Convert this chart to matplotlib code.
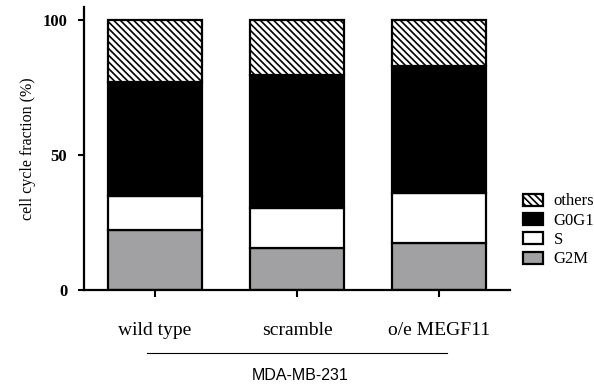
import matplotlib.pyplot as plt
import numpy as np

# Daten (Prozent der Zellzyklusphasen)
groups = ["wild type", "scramble", "o/e MEGF11"]
g2m = [22.2, 15.5, 17.4]
s_phase = [12.6, 14.9, 18.5]
g0g1 = [42.2, 49.2, 47.1]
others = [23.0, 20.4, 17.0]

plt.rcParams['font.family'] = ['Liberation Serif', 'DejaVu Serif']
plt.rcParams['hatch.linewidth'] = 1.2

fig = plt.figure(figsize=(5.94, 3.89), dpi=100)
ax = fig.add_axes([84 / 594, 1 - 290 / 389, 426 / 594, 283.5 / 389])

x = np.arange(len(groups))
w = 0.66
lw = 1.6
b1 = ax.bar(x, g2m, w, color='#a1a1a4', edgecolor='black', linewidth=lw, label='G2M')
bottom = np.array(g2m)
b2 = ax.bar(x, s_phase, w, bottom=bottom, color='white', edgecolor='black', linewidth=lw, label='S')
bottom = bottom + np.array(s_phase)
b3 = ax.bar(x, g0g1, w, bottom=bottom, color='black', edgecolor='black', linewidth=lw, label='G0G1')
bottom = bottom + np.array(g0g1)
b4 = ax.bar(x, others, w, bottom=bottom, color='white', edgecolor='black', linewidth=lw,
            hatch='\\' * 5, label='others')

ax.set_xlim(-0.5, 2.5)
ax.set_ylim(0, 105)
ax.set_yticks([0, 50, 100])
ax.set_yticklabels(['0', '50', '100'], fontweight='bold', fontsize=12)
ax.set_xticks(x)
ax.set_xticklabels(groups, fontsize=14)
ax.tick_params(axis='x', length=5, width=1.5, pad=18)
ax.tick_params(axis='y', length=4, width=1.5, pad=8)
ax.set_ylabel('cell cycle fraction (%)', fontsize=11.5, labelpad=5)

for sp in ['top', 'right']:
    ax.spines[sp].set_visible(False)
for sp in ['left', 'bottom']:
    ax.spines[sp].set_linewidth(1.6)

# Legende
handles = [b4, b3, b2, b1]
leg = ax.legend(handles, [h.get_label() for h in handles], loc='center left',
                bbox_to_anchor=(1.016, 0.21), frameon=False, fontsize=12,
                handlelength=1.2, handleheight=0.75, labelspacing=0.2, handletextpad=0.6,
                borderaxespad=0)

# Linie und Zelllinienname unter den Gruppen
fig.add_artist(plt.Line2D([147 / 594, 447 / 594], [1 - 353 / 389, 1 - 353 / 389],
                          color='black', linewidth=0.8))
fig.text(300 / 594, 1 - 376 / 389, 'MDA-MB-231', ha='center', va='center',
         fontsize=11.5, family='Liberation Sans')

fig.savefig('out.png', dpi=100)
